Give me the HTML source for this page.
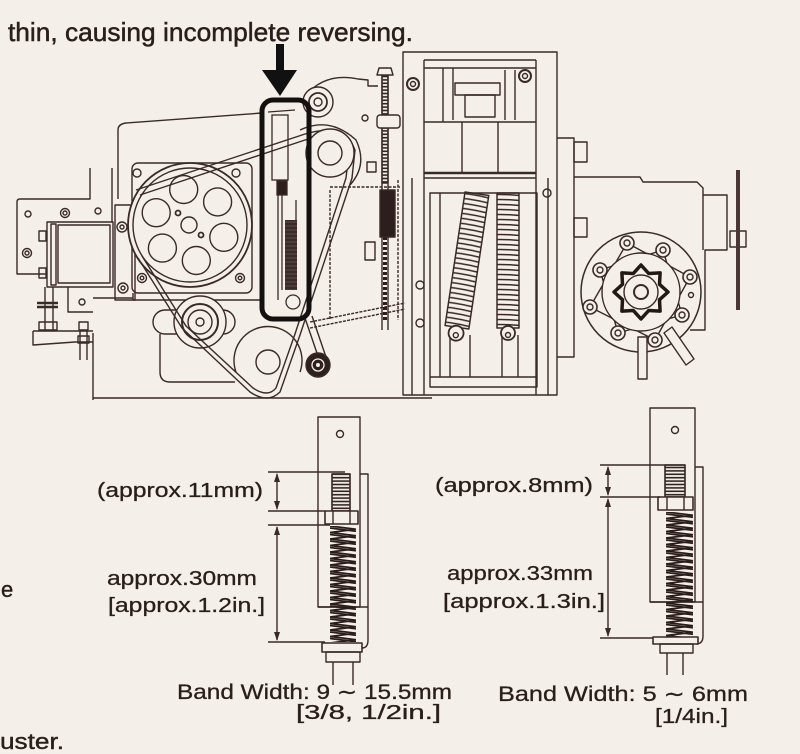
<!DOCTYPE html>
<html><head><meta charset="utf-8">
<style>
html,body{margin:0;padding:0;background:#f4efe8;}
svg{display:block}
</style></head><body>
<svg width="800" height="754" viewBox="0 0 800 754" xmlns="http://www.w3.org/2000/svg">
<defs>
<pattern id="coil" x="0" y="193" width="40" height="5" patternUnits="userSpaceOnUse">
<path d="M0,2.5 Q20,0.5 40,2.5" stroke="#3a2a27" stroke-width="1.6" fill="none"/>
</pattern>
<pattern id="thr" x="0" y="0" width="10" height="3.4" patternUnits="userSpaceOnUse">
<path d="M0,1.7 H10" stroke="#2f2220" stroke-width="1.6"/>
</pattern>
<pattern id="zz1" x="330" y="526" width="26" height="6.5" patternUnits="userSpaceOnUse">
<path d="M0,0 L26,3.25 L0,6.5 M0,2 L26,5.25" stroke="#2a1d1b" stroke-width="1.8" fill="none"/>
</pattern>
<pattern id="zz2" x="666" y="512" width="27" height="6.5" patternUnits="userSpaceOnUse">
<path d="M0,0 L27,3.25 L0,6.5 M0,2 L27,5.25" stroke="#2a1d1b" stroke-width="1.8" fill="none"/>
</pattern>
<pattern id="dk" x="0" y="0" width="4" height="4" patternUnits="userSpaceOnUse">
<rect width="4" height="4" fill="#3a2a27"/><path d="M0,2 H4" stroke="#6b5550" stroke-width="0.8"/>
</pattern>
</defs>
<rect width="800" height="754" fill="#f4efe8"/>

<!-- top text -->
<text x="8" y="41" font-family="Liberation Sans, sans-serif" font-size="26" fill="#2a1e1c" stroke="#2a1e1c" stroke-width="0.5" textLength="405" lengthAdjust="spacingAndGlyphs">thin, causing incomplete reversing.</text>

<g stroke="#3a2a27" stroke-width="1.4" fill="none" stroke-linejoin="round">
<!-- left panel -->
<path d="M90,168 V199 H20 Q17,199 17,202 V274 H47"/>
<path d="M112,168 V222"/>
<circle cx="28" cy="214" r="3"/>
<circle cx="65" cy="213" r="4.5"/><circle cx="65" cy="213" r="2"/>
<circle cx="27" cy="253" r="4.5"/><circle cx="27" cy="253" r="2"/>
<circle cx="98" cy="211" r="3"/>
<rect x="47" y="222" width="66" height="65"/>
<rect x="51" y="224" width="5" height="61"/>
<rect x="58" y="225" width="52" height="58"/>
<rect x="39" y="231" width="7" height="10"/>
<rect x="39" y="268" width="7" height="10"/>
<path d="M45,287 V330 M53,287 V330"/>
<path d="M37,303 H58 M37,307 H58" stroke-width="2.5"/>
<rect x="39" y="322" width="18" height="8"/>
<path d="M33,331 H93 M33,331 V345 L75,342 H93"/>
<path d="M68,287 V312 H93 M93,298 H133"/>
<circle cx="82" cy="302" r="3"/>
<rect x="79" y="322" width="9" height="8"/>
<path d="M80,330 V360 M87,330 V360"/>
<rect x="78" y="336" width="11" height="7"/>
<rect x="115" y="205" width="20" height="95"/>
<circle cx="122" cy="227" r="5"/><circle cx="122" cy="227" r="2"/>
<circle cx="123" cy="288" r="5"/><circle cx="123" cy="288" r="2"/>

<!-- main body outline -->
<path d="M118,199 V130 Q118,124 126,123 L262,113"/>
<path d="M305,96 Q325,72 358,79 L368,80 V86 L378,86"/>
<path d="M93,333 V400 M93,398 H432"/>
<path d="M133,293 V300 H262"/>
<path d="M160,334 V372 Q160,382 170,382 H235"/>
<circle cx="365" cy="118" r="3"/>

<!-- pulley plate -->
<rect x="132" y="163" width="120" height="130" rx="6"/>
<circle cx="137" cy="173" r="4"/><circle cx="236" cy="173" r="4"/>
<circle cx="142" cy="278" r="4.5"/><circle cx="142" cy="278" r="1.8"/>
<circle cx="240" cy="278" r="4.5"/><circle cx="240" cy="278" r="1.8"/>
<circle cx="190" cy="225" r="62" stroke-width="1.8" fill="#f4efe8"/>
<circle cx="190" cy="225" r="57"/>
<circle cx="183.7" cy="189.5" r="14"/>
<circle cx="217.6" cy="201.9" r="14"/>
<circle cx="223.8" cy="237.3" r="14"/>
<circle cx="196.3" cy="260.5" r="14"/>
<circle cx="162.4" cy="248.1" r="14"/>
<circle cx="156.2" cy="212.7" r="14"/>
<circle cx="189" cy="225" r="8"/>
<circle cx="178" cy="213" r="2.5" stroke-width="1.8"/>
<circle cx="201" cy="235" r="2.5" stroke-width="1.8"/>

<!-- lower pulley -->
<rect x="153" y="310" width="82" height="24" rx="12"/>
<circle cx="200" cy="322" r="26" fill="#f4efe8"/>
<circle cx="200" cy="322" r="18" stroke-width="2"/>
<circle cx="200" cy="322" r="12"/>
<circle cx="200" cy="322" r="4"/>

<!-- lower big circle -->
<path d="M236,372 A34,34 0 1,1 300,372"/>
<circle cx="268" cy="362" r="12"/>

<!-- belt -->
<path d="M136,190 L305,134 Q345,122 355,150 L352,178 L300,335 L280,392 Q268,404 250,392 L182,328 L138,258"/>
<path d="M140,195 L305,140 Q340,130 349,152 L346,178 L295,334 L276,388 Q268,398 253,388 L186,326 L142,256"/>

<!-- upper idler & small wheel -->
<path d="M300,130 Q330,116 356,140 Q368,165 350,185" />
<circle cx="330" cy="153" r="24" fill="#f4efe8"/>
<circle cx="330" cy="153" r="12"/>
<circle cx="318" cy="102" r="15" fill="#f4efe8"/>
<circle cx="318" cy="102" r="9" stroke-width="1.8"/>
<circle cx="318" cy="102" r="4"/>

<!-- middle region framework -->
<path d="M330,190 V320 M398,180 V320" stroke-dasharray="3 1.5"/>
<path d="M330,187 H400" stroke-dasharray="3 1.5"/>
<rect x="365" y="242" width="10" height="18"/>
<rect x="367" y="162" width="9" height="10"/>
<path d="M310,322 L405,303 M310,328 L405,309" stroke-dasharray="3 1.2"/>

<!-- arm and black wheel -->
<path d="M305,318 L320,362 M312,316 L327,360"/>
<circle cx="318" cy="365" r="12" fill="#2d201e"/>
<circle cx="318" cy="365" r="6" stroke="#f4efe8" stroke-width="1.3"/>
<circle cx="318" cy="365" r="2" fill="#f4efe8" stroke="none"/>

<!-- adjusting rod -->
<path d="M382,75 V330 M388,75 V330"/>
<rect x="382" y="75" width="6" height="40" fill="url(#thr)"/>
<rect x="382" y="128" width="6" height="55" fill="url(#thr)"/>
<polygon points="379,68 391,68 393,75 377,75" fill="#f4efe8"/>
<rect x="377" y="115" width="23" height="13" rx="3" fill="#f4efe8"/>
<rect x="380" y="190" width="15" height="47" fill="#2b1e1c"/>
<path d="M385,237 V322" stroke="#2b1e1c" stroke-width="4" stroke-dasharray="3 2"/>

<!-- central frame -->
<path d="M403,52 H557 V395 H403 Z"/>
<path d="M424,60 V395 M536,60 V395"/>
<path d="M424,60 H536 M424,68 H536"/>
<path d="M443,68 V122 M453,68 V120 M505,70 V120 M515,70 V120"/>
<rect x="455" y="83" width="45" height="12"/>
<rect x="465" y="95" width="30" height="22"/>
<path d="M424,122 H536"/>
<path d="M424,173 H536" stroke-width="2.6"/>
<path d="M424,178 H536"/>
<path d="M462,122 V173 M498,122 V173"/>
<circle cx="525" cy="76" r="6" stroke-width="2"/><circle cx="525" cy="76" r="2.5"/>
<circle cx="413" cy="84" r="6" stroke-width="2"/><circle cx="413" cy="84" r="2.5"/>
<path d="M412,178 V395 M548,178 V395"/>
<rect x="430" y="193" width="107" height="194"/>
<path d="M430,377 H537 M440,193 V377"/>
<path d="M450,330 V377 M470,335 V377 M502,335 V377 M518,335 V377"/>
<circle cx="420" cy="285" r="4"/><circle cx="420" cy="323" r="4"/>
<circle cx="547" cy="193" r="4"/>
<!-- springs -->
<rect x="497" y="193" width="22" height="135" fill="url(#coil)" stroke-width="1.5"/>
<circle cx="508" cy="333" r="7" fill="#f4efe8" stroke-width="1.8"/>
<circle cx="508" cy="335" r="2.5"/>
<g transform="rotate(8.5 467 260)">
<rect x="455" y="193" width="24" height="135" fill="url(#coil)" stroke-width="1.5"/>
<circle cx="467" cy="334" r="7.5" fill="#f4efe8" stroke-width="1.8"/>
<circle cx="467" cy="336" r="2.5"/>
</g>

<!-- right section -->
<path d="M557,138 H574 V357 H557"/>
<rect x="574" y="142" width="13" height="20"/>
<rect x="574" y="218" width="13" height="19"/>
<path d="M574,177 H640 L643,182 H697 L703,188 V195 H727 V250 H705 V330 H690"/>
<path d="M703,195 V250"/>
<rect x="730" y="231" width="16" height="16"/>
<rect x="736" y="170" width="4" height="140" fill="#4a3632" stroke="none"/>

<!-- flange -->
<circle cx="641" cy="292" r="60" fill="#f4efe8" stroke-width="1.5"/>
<polygon points="663,250 682,315 618,333 600,270"/>
<polygon points="627,243 690,277 655,340 590,307"/>
<circle cx="641" cy="292" r="39" fill="#f4efe8"/>
<polygon points="668,292 659.5,299.7 660.1,311.1 648.7,310.5 641,319 633.3,310.5 621.9,311.1 622.5,299.7 614,292 622.5,284.3 621.9,272.9 633.3,273.5 641,265 648.7,273.5 660.1,272.9 659.5,284.3" stroke="#221816" stroke-width="3.5" fill="#f4efe8"/>
<circle cx="641" cy="292" r="17"/>
<circle cx="641" cy="292" r="7" stroke-width="2"/>
<g fill="#f4efe8" stroke-width="1.6">
<circle cx="627" cy="243" r="7"/><circle cx="663" cy="250" r="7"/>
<circle cx="690" cy="277" r="7"/><circle cx="682" cy="315" r="7"/>
<circle cx="655" cy="340" r="7"/><circle cx="618" cy="333" r="7"/>
<circle cx="590" cy="307" r="7"/><circle cx="600" cy="270" r="7"/>
</g>
<g>
<circle cx="627" cy="243" r="3"/><circle cx="663" cy="250" r="3"/>
<circle cx="690" cy="277" r="3"/><circle cx="682" cy="315" r="3"/>
<circle cx="655" cy="340" r="3"/><circle cx="618" cy="333" r="3"/>
<circle cx="590" cy="307" r="3"/><circle cx="600" cy="270" r="3"/>
</g>
<circle cx="691" cy="295" r="2.5"/>
<rect x="638" y="337" width="9" height="42" fill="#f4efe8"/>
<polygon points="664,333 672,327 694,359 686,365" fill="#f4efe8"/>

<!-- ===== lower left detail ===== -->
<rect x="318" y="417" width="42" height="190"/>
<path d="M318,607 H368"/>
<circle cx="340" cy="434" r="3.5"/>
<path d="M360,474 H368 V640 Q368,648 362,648"/>
<rect x="332" y="474" width="18" height="37" fill="url(#thr)"/>
<rect x="332" y="474" width="18" height="37"/>
<rect x="325" y="511" width="33" height="13" fill="#f4efe8" stroke-width="1.6"/>
<path d="M333,511 V524 M350,511 V524"/>
<rect x="330" y="526" width="26" height="116" fill="url(#zz1)" stroke="none"/>
<rect x="322" y="643" width="40" height="9" fill="#f4efe8" stroke-width="1.6"/>
<rect x="326" y="652" width="34" height="10"/>
<path d="M333,662 V685 M353,662 V685"/>
<!-- dims left -->
<path d="M268,472 H345 M268,511 H325 M268,525 H330 M268,642 H325"/>
<path d="M277,474 V509 M277,527 V640"/>
<g fill="#3a2a27" stroke="none">
<polygon points="277,473 274,482 280,482"/>
<polygon points="277,510 274,501 280,501"/>
<polygon points="277,526 274,535 280,535"/>
<polygon points="277,641 274,632 280,632"/>
</g>

<!-- ===== lower right detail ===== -->
<rect x="650" y="408" width="45" height="194"/>
<path d="M650,602 H703"/>
<circle cx="675" cy="430" r="3.5"/>
<path d="M695,467 H703 V636 Q703,644 696,644"/>
<rect x="665" y="465" width="20" height="32" fill="url(#thr)"/>
<rect x="665" y="465" width="20" height="32"/>
<rect x="658" y="497" width="35" height="13" fill="#f4efe8" stroke-width="1.6"/>
<path d="M667,497 V510 M684,497 V510"/>
<rect x="666" y="512" width="27" height="125" fill="url(#zz2)" stroke="none"/>
<rect x="653" y="637" width="45" height="7" fill="#f4efe8" stroke-width="1.6"/>
<rect x="660" y="644" width="33" height="9"/>
<path d="M667,653 V675 M683,653 V675"/>
<!-- dims right -->
<path d="M600,465 H665 M600,497 H660 M600,638 H653"/>
<path d="M608,467 V495 M608,499 V636"/>
<g fill="#3a2a27" stroke="none">
<polygon points="608,466 605,475 611,475"/>
<polygon points="608,496 605,487 611,487"/>
<polygon points="608,498 605,507 611,507"/>
<polygon points="608,637 605,628 611,628"/>
</g>
</g>

<!-- arrow + highlight box -->
<rect x="276" y="44" width="8" height="28" fill="#111"/>
<polygon points="262,70 297,70 280,96" fill="#111"/>
<rect x="262" y="100" width="47" height="219" rx="11" fill="none" stroke="#141010" stroke-width="5"/>
<!-- inside highlight -->
<g stroke="#3a2a27" stroke-width="1.3" fill="none">
<rect x="272" y="115" width="16" height="65"/>
<path d="M268,112 L295,110"/>
<rect x="277" y="181" width="10" height="14" fill="#2b1e1c"/>
<path d="M278,195 V300 M282,195 V290 M296,200 V290"/>
<rect x="285" y="220" width="12" height="70" fill="url(#dk)" stroke="none"/>
<circle cx="293" cy="302" r="7"/>
</g>

<!-- labels -->
<g font-family="Liberation Sans, sans-serif" fill="#2a1e1c" font-size="20" stroke="#2a1e1c" stroke-width="0.3">
<text x="97" y="497" textLength="166" lengthAdjust="spacingAndGlyphs">(approx.11mm)</text>
<text x="107" y="585" textLength="150" lengthAdjust="spacingAndGlyphs">approx.30mm</text>
<text x="108" y="612" textLength="157" lengthAdjust="spacingAndGlyphs">[approx.1.2in.]</text>
<text x="177" y="699" font-size="21" textLength="275" lengthAdjust="spacingAndGlyphs">Band Width: 9 ∼ 15.5mm</text>
<text x="296" y="719" textLength="145" lengthAdjust="spacingAndGlyphs">[3/8, 1/2in.]</text>
<text x="435" y="492" textLength="158" lengthAdjust="spacingAndGlyphs">(approx.8mm)</text>
<text x="447" y="580" textLength="146" lengthAdjust="spacingAndGlyphs">approx.33mm</text>
<text x="443" y="608" textLength="162" lengthAdjust="spacingAndGlyphs">[approx.1.3in.]</text>
<text x="498" y="701" font-size="21" textLength="250" lengthAdjust="spacingAndGlyphs">Band Width: 5 ∼ 6mm</text>
<text x="655" y="723" textLength="73" lengthAdjust="spacingAndGlyphs">[1/4in.]</text>
</g>
<g font-family="Liberation Sans, sans-serif" fill="#2a1e1c" font-size="22" stroke="#2a1e1c" stroke-width="0.4">
<text x="1" y="597">e</text>
<text x="0" y="749" textLength="64" lengthAdjust="spacingAndGlyphs">uster.</text>
</g>
</svg>
</body></html>
